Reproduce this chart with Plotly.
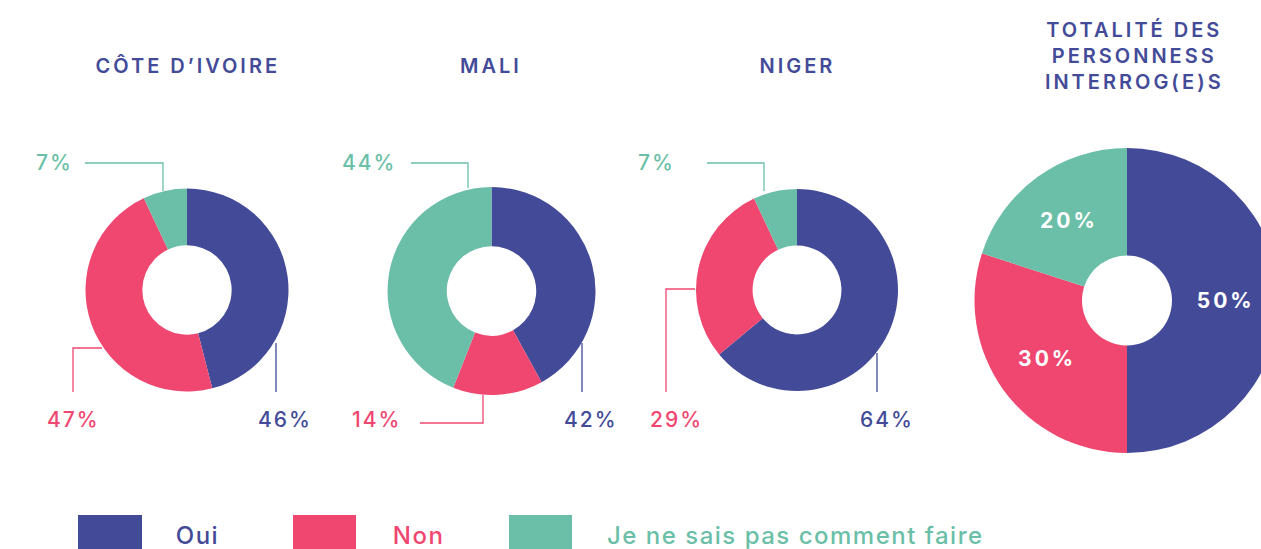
import json
import plotly.graph_objects as go

# ---------------- data ----------------
chart_titles = ["CÔTE D’IVOIRE", "MALI", "NIGER", "TOTALITÉ DES<br>PERSONNESS<br>INTERROG(E)S"]
categories = ["Oui", "Non", "Je ne sais pas comment faire"]
oui = [46, 42, 64, 50]
non = [47, 14, 29, 30]
nsp = [7, 44, 7, 20]

# ---------------- style / layout ----------------
colors = ["#434B99", "#EF4770", "#6BBFA8"]
W, H = 1290, 549
FONT = "Inter"

def px(x):
    return x / W

def py(y):
    return 1 - y / H

# pie geometry (pixel centre, radius, hole ratio)
pies = [
    dict(cx=187, cy=290, r=101.5, hole=0.44),
    dict(cx=491.5, cy=291, r=104, hole=0.43),
    dict(cx=797, cy=290, r=101, hole=0.44),
    dict(cx=1127, cy=300.5, r=152.5, hole=0.295),
]
title_pos = [(188, 66), (491, 66), (797, 66), (1134, 56)]

# outside label placement (text position, leader path) for first three charts,
# in order Oui, Non, NSP
leaders = [
    [((285, 419), [(276, 343), (276, 392)]),
     ((73, 419), [(102, 348), (73, 348), (73, 392)]),
     ((54, 162), [(163, 191), (163, 163), (85, 163)])],
    [((591, 419), [(582, 343), (582, 392)]),
     ((377, 419), [(483, 395), (483, 423), (420, 423)]),
     ((369, 162), [(468, 188), (468, 163), (411, 163)])],
    [((887, 419), [(877, 353), (877, 392)]),
     ((676, 419), [(695, 289), (666, 289), (666, 392)]),
     ((656, 162), [(764, 191), (764, 163), (707, 163)])],
]

legend_rects = [(78, 142), (293, 356), (509, 572)]
legend_text_x = [174, 391, 605]
LEGEND_SP = 1.5

fig = go.Figure()
annotations = []
spacing = []   # letter spacing per annotation (px)
shapes = []

for i in range(4):
    p = pies[i]
    vals = [oui[i], non[i], nsp[i]]
    dom = dict(x=[px(p["cx"] - p["r"]), px(p["cx"] + p["r"])],
               y=[py(p["cy"] + p["r"]), py(p["cy"] - p["r"])])
    kw = dict(
        values=vals, labels=categories, sort=False, direction="clockwise",
        rotation=0, hole=p["hole"], domain=dom, showlegend=False,
        marker=dict(colors=colors, line=dict(width=0)),
        hovertemplate="%{label}: %{value}%<extra></extra>",
    )
    if i == 3:
        kw.update(texttemplate="%{value}%", textposition="inside",
                  insidetextorientation="horizontal",
                  textfont=dict(family=FONT, size=21, color="white", weight=700))
    else:
        kw.update(textinfo="none")
    fig.add_trace(go.Pie(**kw))

    tx, ty = title_pos[i]
    annotations.append(dict(
        x=px(tx), y=py(ty), xref="paper", yref="paper", text=chart_titles[i],
        showarrow=False, xanchor="center", yanchor="middle",
        font=dict(family=FONT, size=20, color=colors[0], weight=600),
    ))
    spacing.append(3)

    if i < 3:
        for k in range(3):
            (lx, ly), path = leaders[i][k]
            annotations.append(dict(
                x=px(lx), y=py(ly), xref="paper", yref="paper",
                text=f"{vals[k]}%", showarrow=False,
                xanchor="center", yanchor="middle",
                font=dict(family=FONT, size=21, color=colors[k], weight=500),
            ))
            spacing.append(2)
            d = "M " + " L ".join(f"{px(x)},{py(y)}" for x, y in path)
            shapes.append(dict(type="path", path=d, xref="paper", yref="paper",
                               line=dict(color=colors[k], width=1.3)))

for k in range(3):
    x0, x1 = legend_rects[k]
    shapes.append(dict(type="rect", xref="paper", yref="paper",
                       x0=px(x0), x1=px(x1), y0=py(560), y1=py(515),
                       fillcolor=colors[k], line=dict(width=0)))
    # text is centred inside its box, so letter spacing widens it both ways
    shift = len(categories[k]) * LEGEND_SP / 2
    annotations.append(dict(
        x=px(legend_text_x[k] + shift), y=py(535), xref="paper", yref="paper",
        text=categories[k], showarrow=False, xanchor="left", yanchor="middle",
        font=dict(family=FONT, size=24, color=colors[k], weight=500),
    ))
    spacing.append(LEGEND_SP)

fig.update_layout(
    width=W, height=H,
    margin=dict(l=0, r=0, t=0, b=0),
    paper_bgcolor="white", plot_bgcolor="white",
    annotations=annotations, shapes=shapes,
)

post = (
    "document.body.style.margin='0';"
    "document.body.style.overflow='hidden';"
    "document.documentElement.style.overflow='hidden';"
    "var sp=" + json.dumps(spacing) + ";"
    "document.querySelectorAll('g.annotation').forEach(function(g){"
    "var i=+g.getAttribute('data-index');var t=g.querySelector('text.annotation-text');"
    "if(t&&sp[i]!==undefined){t.style.letterSpacing=sp[i]+'px';}});"
    "document.querySelectorAll('text.slicetext').forEach(function(t){t.style.letterSpacing='3px';});"
)

fig.write_html("out.html", config={"displayModeBar": False}, post_script=post)
